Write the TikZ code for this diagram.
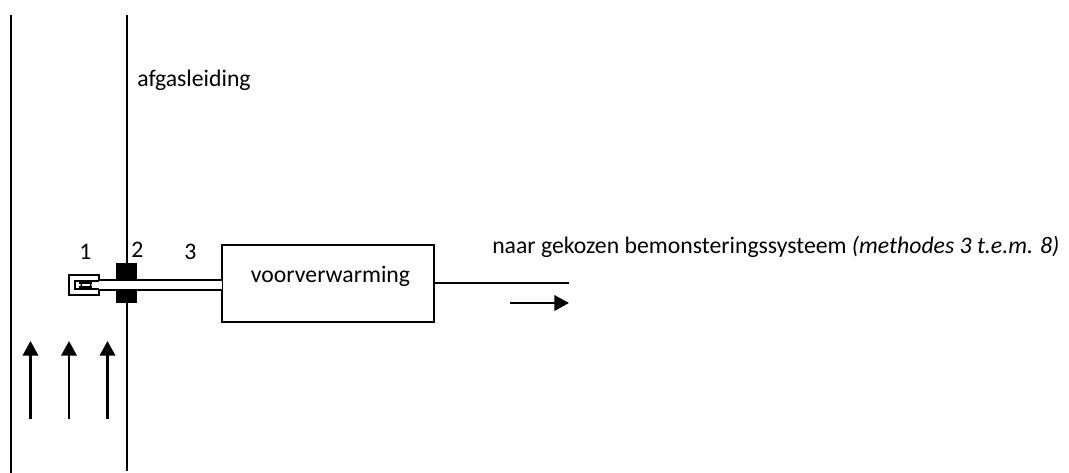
\documentclass[tikz,border=0pt]{standalone}
\usepackage{fontspec}
\setmainfont{Carlito}
\usetikzlibrary{arrows.meta}
\tikzset{
  x=0.75pt,y=-0.75pt,
  wall/.style={draw=black,line width=1.1pt},
  thinline/.style={draw=black,line width=1.1pt},
  flow/.style={draw=black,line width=2pt,-{Triangle[length=11pt,width=11.5pt]}},
  lbl/.style={inner sep=0pt,anchor=base west,font=\fontsize{17.8}{21}\selectfont},
}
\begin{document}
\begin{tikzpicture}
\useasboundingbox (0,0) rectangle (1069,473);
% walls
\coordinate (wlt) at (11,15); \coordinate (wlb) at (11,473);
\coordinate (wrt) at (127,15); \coordinate (wrb) at (127,471);
\draw[wall] (wlt) -- (wlb);
\draw[wall] (wrt) -- (wrb);
% flange
\node[fill=black,inner sep=0pt,minimum width=16pt,minimum height=30pt] (flange) at (126.5,283) {};
% probe filter
\node[draw=black,fill=white,line width=1.1pt,inner sep=0pt,minimum width=22.5pt,minimum height=15pt] (filter) at (84,285) {};
% tube
\coordinate (tubeTL) at (100,280); \coordinate (tubeBL) at (100,290);
\node[draw=black,line width=1.1pt,fill=white,inner sep=0pt,minimum width=159pt,minimum height=58pt] (box) at (328,283.5) {};
\fill[white] (75,281) rectangle (222,289);
\draw[thinline] (tubeTL) -- (box.west |- tubeTL);
\draw[thinline] (tubeBL) -- (box.west |- tubeBL);
\draw[thinline] (99,281) -- (75,281) -- (75,289) -- (99,289);
\draw[line width=1.2pt] (79,283) -- (92,283) (79,287) -- (92,287);
\draw[line width=0.9pt] (86,285) ellipse [x radius=5,y radius=3];
\node[lbl,anchor=center] (voor) at (330.5,276) {voorverwarming};
% outlet
\coordinate (out) at (569,283);
\draw[thinline] (box.east |- out) -- (out);
\coordinate (fa) at (510,303); \coordinate (fb) at (569,303);
\draw[flow] (fa) -- (fb);
% flow arrows
\foreach \n/\x in {a/30.5,b/69,c/107.5}{
  \coordinate (\n0) at (\x,419); \coordinate (\n1) at (\x,341);
  \draw[flow] (\n0) -- (\n1);
}
% labels
\node[lbl] (afg) at (137,87) {afgasleiding};
\node[lbl] (n1) at (79,260) {1};
\node[lbl] (n2) at (131,258) {2};
\node[lbl] (n3) at (184,260) {3};
\node[lbl] (naar) at (492,254) {naar gekozen bemonsteringssysteem \textit{(methodes 3 t.e.m. 8)}};
\end{tikzpicture}
\end{document}
